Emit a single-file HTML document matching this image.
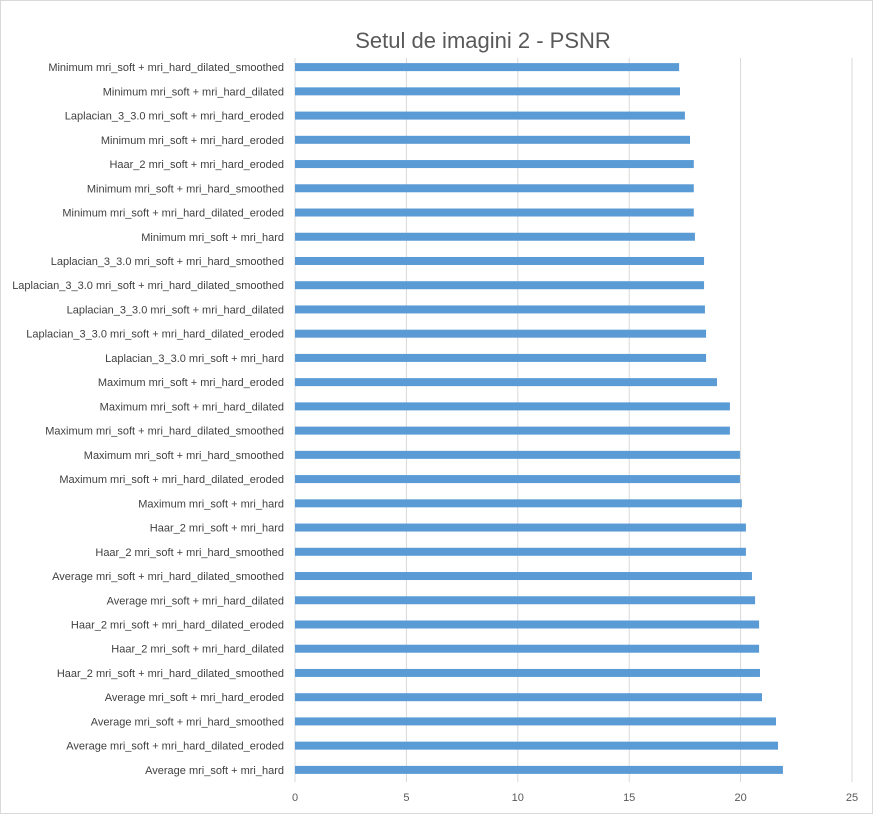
<!DOCTYPE html>
<html><head><meta charset="utf-8">
<style>
body{margin:0;background:#fff;}
svg{display:block;font-family:"Liberation Sans",sans-serif;}
</style></head>
<body>
<svg id="chart" width="873" height="814">
<rect x="0.5" y="0.5" width="872" height="813" fill="#fff" stroke="#d9d9d9"/>
<text x="483" y="48" text-anchor="middle" font-size="22" fill="#595959">Setul de imagini 2 - PSNR</text>
<g id="grid"></g><g id="bars"></g><g id="labels"></g><g id="ticks"></g>
</svg>
<script>
const categories=["Minimum mri_soft + mri_hard_dilated_smoothed","Minimum mri_soft + mri_hard_dilated","Laplacian_3_3.0 mri_soft + mri_hard_eroded","Minimum mri_soft + mri_hard_eroded","Haar_2 mri_soft + mri_hard_eroded","Minimum mri_soft + mri_hard_smoothed","Minimum mri_soft + mri_hard_dilated_eroded","Minimum mri_soft + mri_hard","Laplacian_3_3.0 mri_soft + mri_hard_smoothed","Laplacian_3_3.0 mri_soft + mri_hard_dilated_smoothed","Laplacian_3_3.0 mri_soft + mri_hard_dilated","Laplacian_3_3.0 mri_soft + mri_hard_dilated_eroded","Laplacian_3_3.0 mri_soft + mri_hard","Maximum mri_soft + mri_hard_eroded","Maximum mri_soft + mri_hard_dilated","Maximum mri_soft + mri_hard_dilated_smoothed","Maximum mri_soft + mri_hard_smoothed","Maximum mri_soft + mri_hard_dilated_eroded","Maximum mri_soft + mri_hard","Haar_2 mri_soft + mri_hard","Haar_2 mri_soft + mri_hard_smoothed","Average mri_soft + mri_hard_dilated_smoothed","Average mri_soft + mri_hard_dilated","Haar_2 mri_soft + mri_hard_dilated_eroded","Haar_2 mri_soft + mri_hard_dilated","Haar_2 mri_soft + mri_hard_dilated_smoothed","Average mri_soft + mri_hard_eroded","Average mri_soft + mri_hard_smoothed","Average mri_soft + mri_hard_dilated_eroded","Average mri_soft + mri_hard"];
const psnrValues=[17.24,17.28,17.5,17.73,17.9,17.9,17.9,17.95,18.36,18.36,18.4,18.45,18.45,18.94,19.52,19.52,19.97,19.97,20.06,20.24,20.24,20.51,20.65,20.83,20.83,20.87,20.96,21.59,21.68,21.9];
const tickValues=[0,5,10,15,20,25];
const NS="http://www.w3.org/2000/svg";
const x0=295,x1=852,xmax=25,yTop=55,yBot=782,gridTop=58;
const xs=v=>x0+(v/xmax)*(x1-x0);
const step=(yBot-yTop)/categories.length;
const ys=i=>yTop+step*(i+0.5);
function mk(t,a){const e=document.createElementNS(NS,t);for(const k in a)e.setAttribute(k,a[k]);return e;}
const grid=document.getElementById('grid'),bars=document.getElementById('bars'),labels=document.getElementById('labels'),ticks=document.getElementById('ticks');
tickValues.forEach(v=>{
  const l=mk('line',{x1:xs(v),x2:xs(v),y1:gridTop,y2:yBot,stroke:'#d9d9d9','stroke-width':1});
  
  
  grid.appendChild(l);
  const t=mk('text',{x:xs(v),y:801,'text-anchor':'middle','font-size':11,fill:'#595959'});
  t.textContent=v;
  
  
  ticks.appendChild(t);
});
categories.forEach((c,i)=>{
  const y=ys(i);
  const r=mk('rect',{x:x0,y:y-4,width:xs(psnrValues[i])-x0,height:8,fill:'#5b9bd5'});
  
  
  bars.appendChild(r);
  const t=mk('text',{x:284,y:y+4,'text-anchor':'end','font-size':11,fill:'#404040'});
  t.textContent=c;
  
  
  labels.appendChild(t);
});
</script>
</body></html>
